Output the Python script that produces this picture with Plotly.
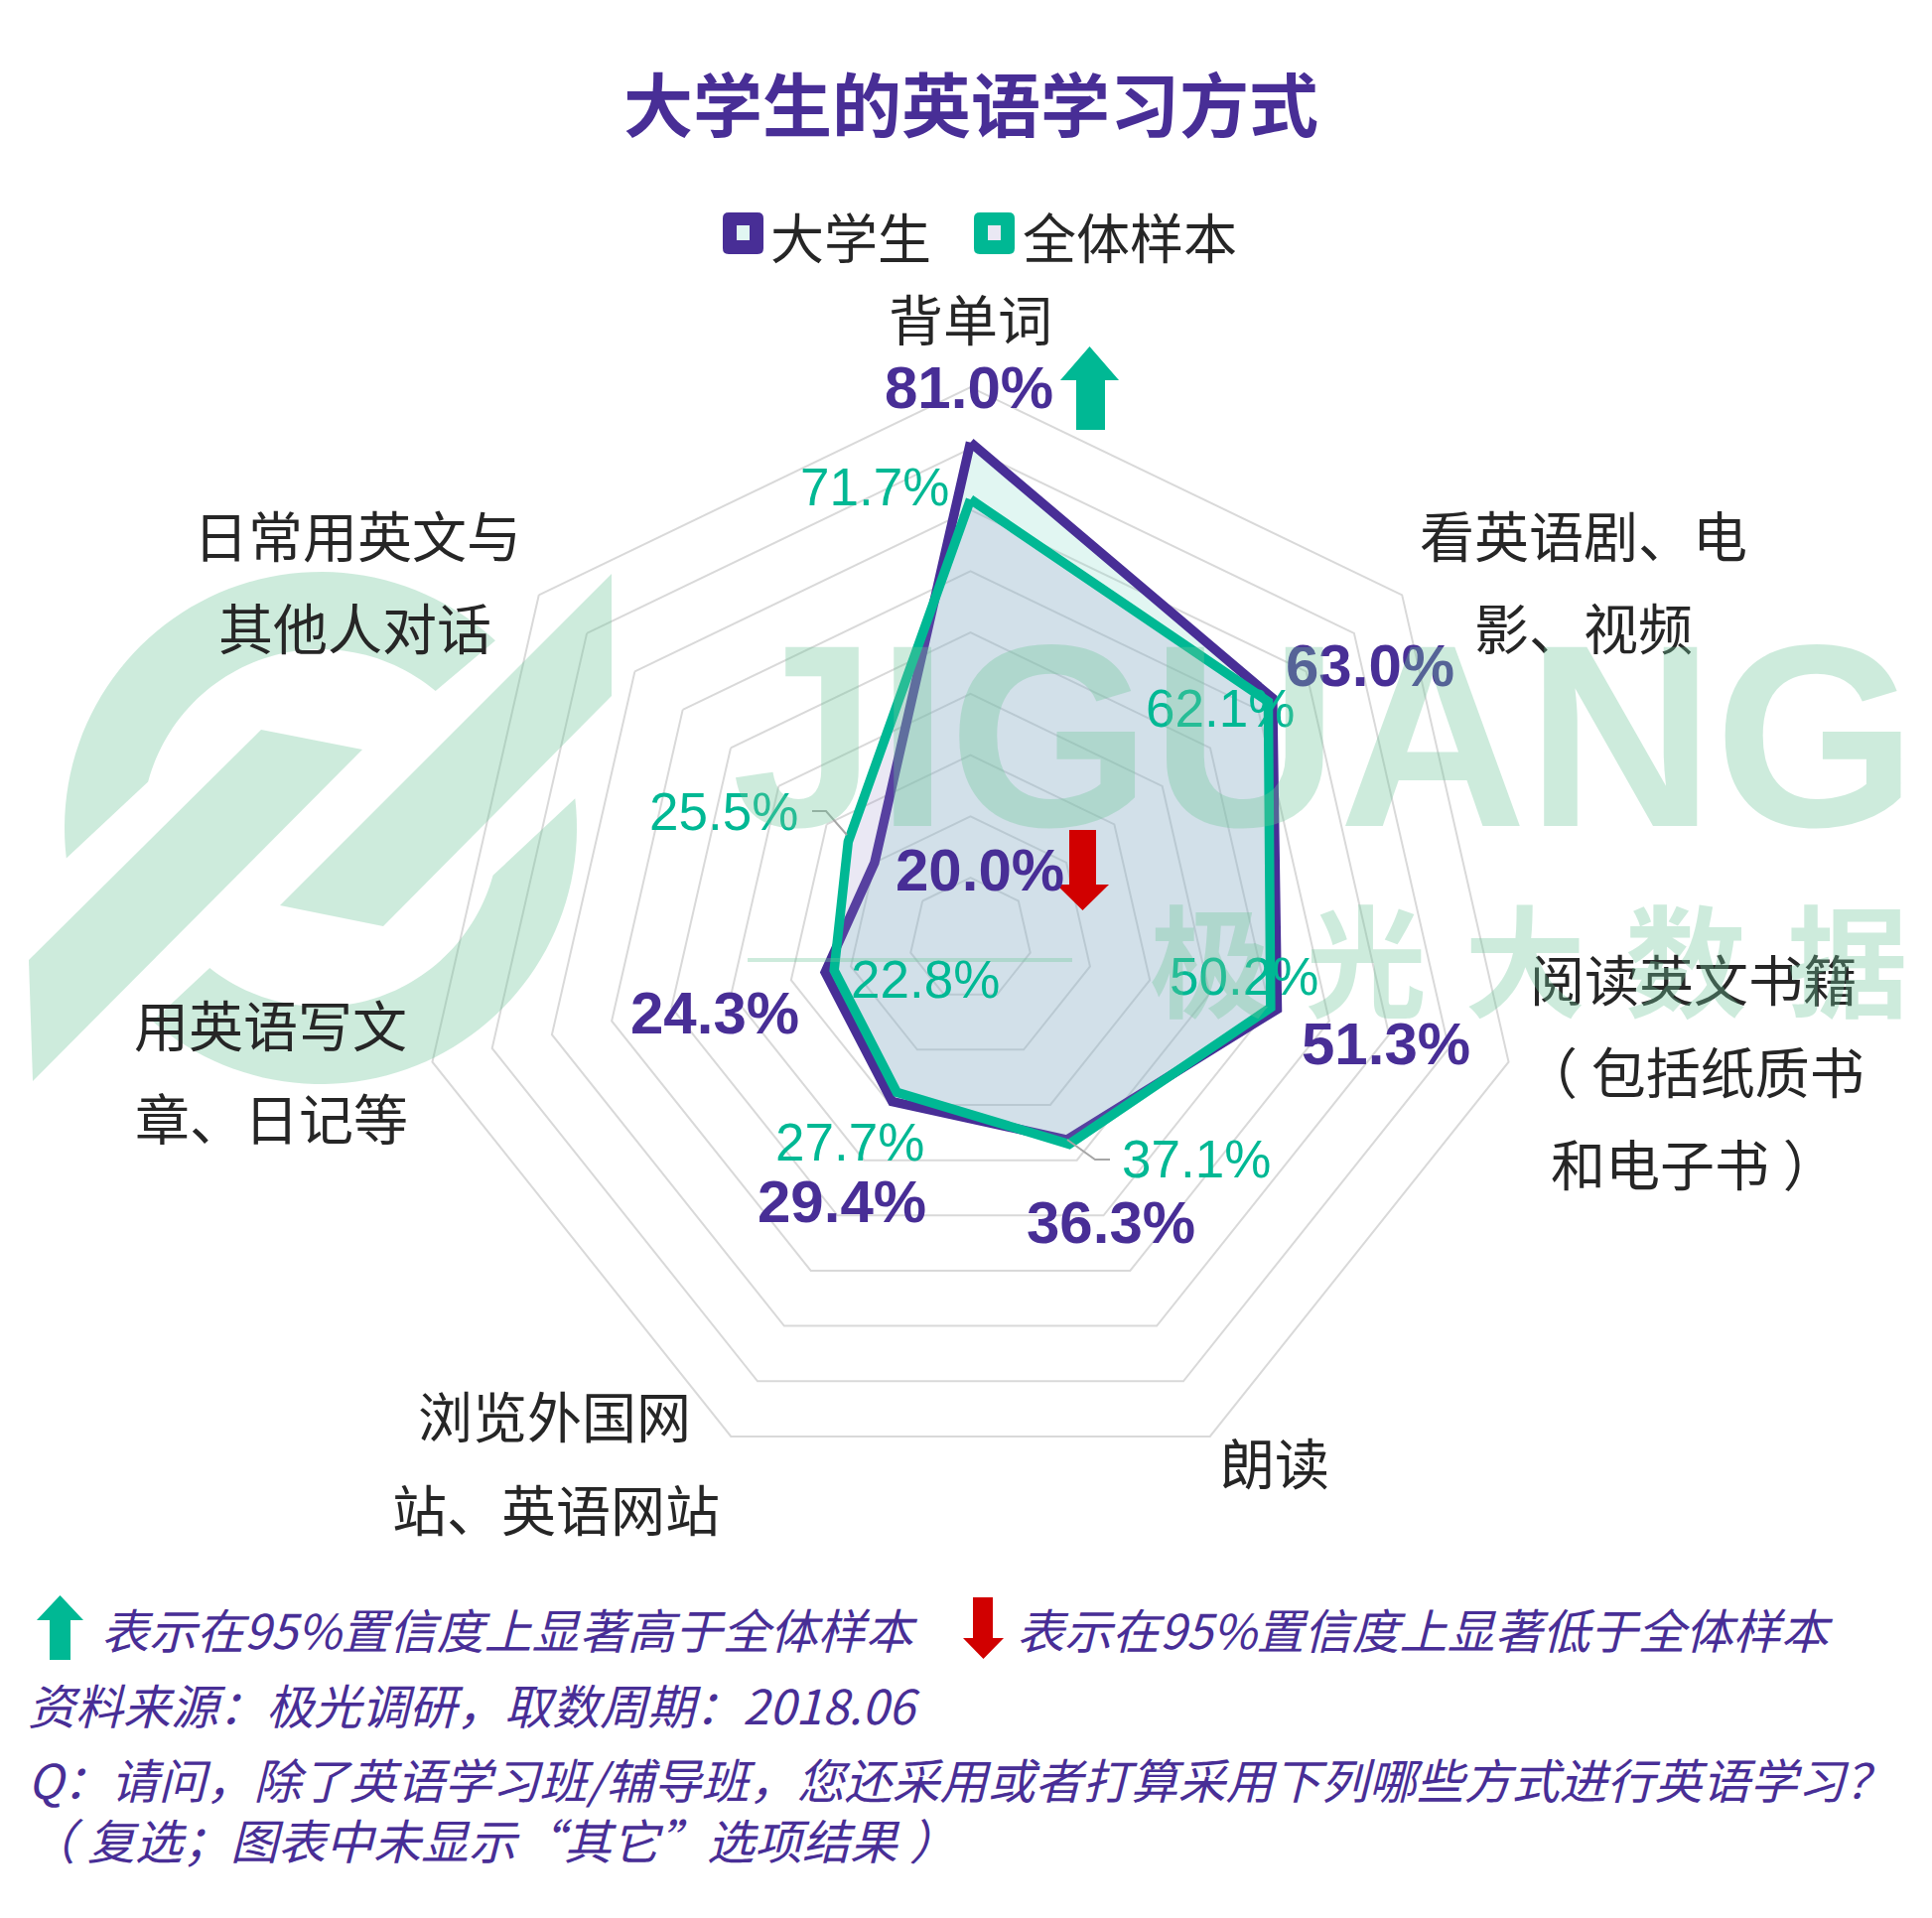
import numpy as np
import plotly.graph_objects as go

W, H = 1946, 1932

# ---------------- data ----------------
categories = ["背单词", "看英语剧、电影、视频", "阅读英文书籍（包括纸质书和电子书）", "朗读",
              "浏览外国网站、英语网站", "用英语写文章、日记等", "日常用英文与其他人对话"]
category_lines = [["背单词"], ["看英语剧、电", "影、视频"], ["阅读英文书籍", "（\u2005包括纸质书", "和电子书\u2005）"],
                  ["朗读"], ["浏览外国网", "站、英语网站"], ["用英语写文", "章、日记等"], ["日常用英文与", "其他人对话"]]
students = [81.0, 63.0, 51.3, 36.3, 29.4, 24.3, 20.0]
overall = [71.7, 62.1, 50.2, 37.1, 27.7, 22.8, 25.5]
series_names = ["大学生", "全体样本"]
significance = ["up", None, None, None, None, None, "down"]
radial_max = 90
radial_step = 10

title_text = "大学生的英语学习方式"
footer_up = "表示在95%置信度上显著高于全体样本"
footer_down = "表示在95%置信度上显著低于全体样本"
source_text = "资料来源：极光调研，取数周期：2018.06"
question_lines = ["Q：请问，除了英语学习班/辅导班，您还采用或者打算采用下列哪些方式进行英语学习？",
                  "（\u2005复选；图表中未显示“其它”选项结果\u2005）"]

# ---------------- layout positions (px) ----------------
CX, CY, R = 977.5, 946, 556
student_label_pos = [(976, 390), (1380, 670), (1396, 1051), (1119, 1231), (848, 1210), (720, 1021), (987, 876)]
overall_label_pos = [(881, 490), (1229, 713), (1253, 984), (1205, 1167), (856, 1150), (932, 986), (729, 817)]
category_pos = [[(977, 319)], [(1595, 537), (1595, 630)], [(1706, 984), (1706, 1077), (1706, 1170)],
                [(1284, 1471)], [(558, 1424), (560, 1518)], [(272, 1030), (273, 1124)], [(360, 537), (357, 630)]]
sig_arrow_pos = {0: (1068, 1127, 1084, 1113, 349, 383, 433), 6: (1064, 1117, 1077, 1104, 917, 891, 836)}

PURPLE = "#482E96"
GREEN = "#00B894"
RED = "#D10000"
TEXT = "#262626"
WM = "rgba(112,198,155,0.35)"
CJK = "Noto Sans CJK SC"
LAT = "Liberation Sans, Arial"


def px(x):
    return x / W


def py(y):
    return 1 - y / H


def P(x, y):
    return f"{px(x):.5f},{py(y):.5f}"


def poly(points, close=True):
    s = "M" + "L".join(P(x, y) for x, y in points)
    return s + ("Z" if close else "")


def arrow(hx0, hx1, sx0, sx1, tip, base, end):
    xm = (hx0 + hx1) / 2
    return poly([(sx0, end), (sx0, base), (hx0, base), (xm, tip), (hx1, base), (sx1, base), (sx1, end)])


fig = go.Figure()
theta = categories + [categories[0]]
fig.add_trace(go.Scatterpolar(r=students + [students[0]], theta=theta, mode="lines", fill="toself",
                              fillcolor="rgba(135,219,203,0.25)", line=dict(color=PURPLE, width=9.5),
                              name=series_names[0], hoverinfo="skip"))
fig.add_trace(go.Scatterpolar(r=overall + [overall[0]], theta=theta, mode="lines", fill="toself",
                              fillcolor="rgba(150,140,200,0.2)", line=dict(color=GREEN, width=9.5),
                              name=series_names[1], hoverinfo="skip"))

shapes = []
annotations = []

# ---- watermark logo ----
def ring_seg(cx, cy, ro, ri, ao0, ao1, ai0, ai1, n=60):
    pts = []
    for a in np.linspace(ao0, ao1, n):
        t = np.radians(a)
        pts.append((cx + ro * np.cos(t), cy - ro * np.sin(t)))
    for a in np.linspace(ai0, ai1, n):
        t = np.radians(a)
        pts.append((cx + ri * np.cos(t), cy - ri * np.sin(t)))
    return poly(pts)

LCX, LCY, LRO, LRI = 323, 834, 258, 180
for p in [ring_seg(LCX, LCY, LRO, LRI, 186.8, 47, 50, 165),
          ring_seg(LCX, LCY, LRO, LRI, 6.6, -131, -128.4, -15.4),
          poly([(29, 967), (263, 735), (365, 755), (33, 1089)]),
          poly([(616, 578), (616, 701), (386, 933), (282, 912)])]:
    shapes.append(dict(type="path", path=p, xref="paper", yref="paper", fillcolor=WM, line=dict(width=0), layer="above"))
shapes.append(dict(type="path", path=poly([(753, 965), (1080, 965), (1080, 969), (753, 969)]), xref="paper", yref="paper",
                   fillcolor=WM, line=dict(width=0), layer="above"))

# ---- leader lines ----
for pts in [[(818, 817), (832, 817), (853, 841)], [(1075, 1148), (1103, 1168), (1118, 1168)]]:
    shapes.append(dict(type="path", path=poly(pts, close=False), xref="paper", yref="paper",
                       line=dict(color="#A6A6A6", width=2), fillcolor="rgba(0,0,0,0)"))

# ---- significance arrows ----
for i, s in enumerate(significance):
    if s is None:
        continue
    hx0, hx1, sx0, sx1, tip, base, end = sig_arrow_pos[i]
    shapes.append(dict(type="path", path=arrow(hx0, hx1, sx0, sx1, tip, base, end), xref="paper", yref="paper",
                       fillcolor=GREEN if s == "up" else RED, line=dict(width=0)))

# footer arrows
shapes.append(dict(type="path", path=arrow(37, 84, 50, 71, 1607, 1632, 1672), xref="paper", yref="paper",
                   fillcolor=GREEN, line=dict(width=0)))
shapes.append(dict(type="path", path=arrow(970, 1011, 980, 1000, 1671, 1650, 1609), xref="paper", yref="paper",
                   fillcolor=RED, line=dict(width=0)))

# ---- legend markers ----
def rrect(x0, y0, x1, y1, r):
    return ("M" + P(x0 + r, y0) + "L" + P(x1 - r, y0) + "Q" + P(x1, y0) + " " + P(x1, y0 + r) +
            "L" + P(x1, y1 - r) + "Q" + P(x1, y1) + " " + P(x1 - r, y1) + "L" + P(x0 + r, y1) +
            "Q" + P(x0, y1) + " " + P(x0, y1 - r) + "L" + P(x0, y0 + r) + "Q" + P(x0, y0) + " " + P(x0 + r, y0) + "Z")

for (x0, col, inner) in [(728, PURPLE, "rgb(225,246,242)"), (981, GREEN, "rgb(234,232,244)")]:
    shapes.append(dict(type="path", path=rrect(x0, 214, x0 + 41, 256, 6), xref="paper", yref="paper",
                       fillcolor=col, line=dict(width=0)))
    shapes.append(dict(type="rect", x0=px(x0 + 14), x1=px(x0 + 27), y0=py(242), y1=py(227), xref="paper", yref="paper",
                       fillcolor=inner, line=dict(width=0)))

def ann(text, x, y, size, color, family, xanchor="center"):
    annotations.append(dict(text=text, x=px(x), y=py(y), xref="paper", yref="paper", showarrow=False,
                            xanchor=xanchor, yanchor="middle", font=dict(size=size, color=color, family=family)))

ann(series_names[0], 774, 237, 54, TEXT, CJK, "left")
ann(series_names[1], 1028, 237, 54, TEXT, CJK, "left")

# title
ann("<b>" + title_text + "</b>", 978, 102, 70, PURPLE, CJK)

# category labels
for lines, poss in zip(category_lines, category_pos):
    for t, (x, y) in zip(lines, poss):
        ann(t, x, y, 55, TEXT, CJK)

# data labels
for v, (x, y) in zip(overall, overall_label_pos):
    ann(f"{v:.1f}%", x, y, 53, GREEN, LAT)
for v, (x, y) in zip(students, student_label_pos):
    ann(f"<b>{v:.1f}%</b>", x, y, 60, PURPLE, LAT)

# footer
ann("<i>" + footer_up + "</i>", 100, 1640, 48, PURPLE, CJK, "left")
ann("<i>" + footer_down + "</i>", 1022, 1640, 48, PURPLE, CJK, "left")
ann("<i>" + source_text + "</i>", 26, 1716, 48, PURPLE, CJK, "left")
ann("<i>" + question_lines[0] + "</i>", 26, 1791, 48, PURPLE, CJK, "left")
ann("<i>" + question_lines[1] + "</i>", 26, 1852, 48, PURPLE, CJK, "left")

# watermark text (on top)
annotations.append(dict(text="<b>JIGUANG</b>", x=px(1334), y=py(742), xref="paper", yref="paper", showarrow=False,
                        xanchor="center", yanchor="middle", font=dict(size=262, color=WM, family=LAT)))
for ch, x in zip("极光大数据", [1219, 1376, 1536, 1698, 1861]):
    annotations.append(dict(text="<b>" + ch + "</b>", x=px(x), y=py(962), xref="paper", yref="paper", showarrow=False,
                            xanchor="center", yanchor="middle", font=dict(size=122, color=WM, family=CJK)))

fig.update_layout(
    width=W, height=H, autosize=False,
    margin=dict(l=0, r=0, t=0, b=0),
    paper_bgcolor="white",
    showlegend=False,
    hovermode=False,
    polar=dict(
        domain=dict(x=[(CX - R) / W, (CX + R) / W], y=[1 - (CY + R) / H, 1 - (CY - R) / H]),
        gridshape="linear",
        bgcolor="rgba(0,0,0,0)",
        radialaxis=dict(range=[0, radial_max], dtick=radial_step, tick0=0, showticklabels=False, ticks="",
                        showline=False, gridcolor="#D9D9D9", gridwidth=2),
        angularaxis=dict(categoryorder="array", categoryarray=categories, rotation=90, direction="clockwise",
                         showticklabels=False, ticks="", showgrid=False, showline=True,
                         linecolor="#D9D9D9", linewidth=2),
    ),
    shapes=shapes,
    annotations=annotations,
)

post = ("document.body.style.margin='0';document.body.style.overflow='hidden';")

fig.write_html("out.html", config={"displayModeBar": False}, post_script=post)
